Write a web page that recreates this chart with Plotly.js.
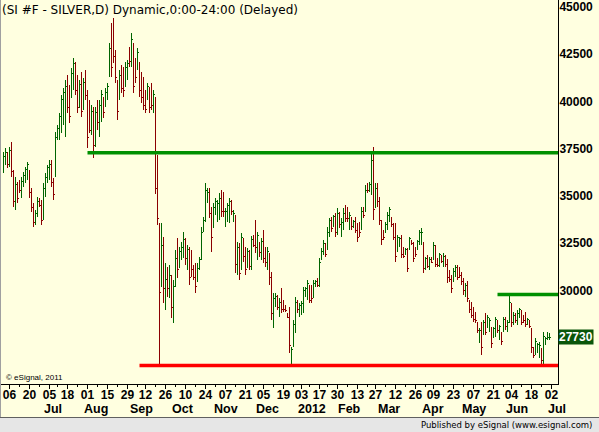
<!DOCTYPE html>
<html><head><meta charset="utf-8">
<script src="https://cdn.plot.ly/plotly-3.0.1.min.js"></script>
<style>html,body{margin:0;padding:0;background:#FFFFE0;}#chart{width:599px;height:432px;}
#chart .ohlc path{shape-rendering:crispEdges;}</style>
</head><body><div id="chart"></div>
<script>
// Daily OHLC, SI #F silver, Jun 1 2011 .. Jun 29 2012 (values as shown on the axis)
const openP = [
36700,37000,37300,36950,37700,36400,34800,35600,35900,35300,35900,36100,36300,36400,35400,34700,33800,34300,35000,34700,34000,35500,
36100,36500,36900,35900,36400,38300,38400,39000,39300,38700,41300,40200,40600,41100,42100,41300,40000,41500,39900,41600,
40500,39300,38700,39700,38000,39900,38600,39500,40300,40100,40500,41700,43500,44300,42700,41200,40500,41900,41800,41200,41600,42900,42300,
43000,42300,42000,42100,41600,41300,40600,40400,40800,41000,39800,40300,36800,33500,30600,32500,29600,30900,30100,30800,29000,
30700,32300,31600,32000,32200,32800,31700,32300,32000,31400,31000,30900,31500,32000,33400,34000,35000,35400,34300,33600,34400,
34100,34200,35300,35200,33800,34000,34000,34800,33950,34000,31300,32400,31500,32800,32300,31600,32200,31500,33000,33700,32100,
32600,32000,33200,32300,31600,32000,30900,28500,29500,29900,29000,30100,29600,29350,28980,29000,26500,27300,28200,29600,29000,
29200,29200,29950,29900,30300,30400,29900,30450,30800,30500,31900,32200,32600,32400,33200,34000,33700,34200,33300,34200,
33200,33600,34500,34400,33600,34000,33600,33900,33600,33500,33500,34500,34500,35800,35500,35600,37300,34700,35700,34900,
33800,33300,33300,33500,34000,34000,33700,33500,32300,32600,33000,32400,32100,32300,32400,32850,32700,32400,32400,32700,32800,32700,
31400,32000,31400,31900,31900,32500,31850,31550,32050,31600,32000,31700,31100,30900,30800,31100,31450,31300,31100,30700,
30000,30500,29600,29400,29200,28900,28450,27600,28300,27900,28900,28300,28200,28200,27800,27900,28600,27800,27900,28100,28700,28200,
28600,29400,28500,28950,28500,28850,29100,28850,28900,28450,28600,28150,27100,26900,27000,26800,27000,26500,27400,27650,27650
];
const highP = [
37540,37750,37540,37800,38060,36590,36210,35950,36060,36210,36480,36740,37010,36590,35630,34840,34470,35160,35100,35000,35900,36430,
36850,37110,37110,36160,38590,38960,39600,40550,40920,41340,41610,41080,41980,42510,42300,41610,41340,41770,41450,41870,
40820,40290,40020,39920,39920,40290,40290,40820,40440,40920,41190,43300,44360,44620,42930,41340,41870,42140,42030,42300,42400,43090,43830,
43300,42510,43040,42300,41770,41500,40820,41190,40970,41190,40820,40450,37400,33800,33780,33040,31660,31450,31560,31030,30770,
32350,32990,32510,32770,33300,32990,32620,32510,32350,31560,31660,31660,31980,33570,34100,35900,35630,35630,34630,34840,35100,
35000,35370,35530,35420,34570,34840,35100,35000,34470,34200,32780,32720,33250,32990,32510,32460,32350,33090,33150,33940,33300,
32780,32990,33410,32510,32510,32190,31190,30080,30080,29970,29820,30340,29710,29450,29020,29340,27220,28650,29870,29710,29550,
29650,30400,30400,30770,30500,30500,30770,30770,30870,31930,32460,32880,32720,33570,34050,34100,34200,34310,34570,34360,
34040,34570,34730,34630,34360,34100,33940,34100,33780,33840,34630,34630,35790,35900,35950,37480,37800,35900,35900,35160,
33940,33410,33840,34360,34630,34100,33780,33780,33150,33040,33150,32510,32460,32460,33040,32880,32780,32510,32880,33410,33520,32780,
31980,32090,31980,31980,32780,32620,31930,32190,32090,32190,32090,31880,31300,31030,31400,31560,31560,31450,31190,30870,
30610,30710,29710,29600,29340,29070,28540,28230,28540,28650,29020,28920,28760,28280,28280,28810,28650,28390,28020,28810,28810,28650,
29970,29550,29070,29020,29180,29290,29180,28920,29070,28760,28650,28230,27220,27700,27430,27490,27170,28020,27750,28020,27960
];
const lowP = [
36430,36850,36690,36740,36210,34630,34470,34840,35370,35100,35690,35900,36060,35100,34360,33570,33680,34100,34630,33680,33940,35160,
35900,36060,35690,35000,36210,38170,38170,38540,38960,38330,39600,39070,40390,40820,40550,39600,39860,39390,39760,40290,
37750,38540,38440,37220,37800,38700,38330,39120,39330,39920,40290,41500,41500,42240,41190,39230,40290,40660,40450,40970,41340,42030,42030,
40660,41190,41870,40450,40130,39760,39600,40290,39600,39760,39600,35300,33700,26270,30400,29550,29180,29870,29810,28760,28490,
30400,30870,31400,31830,31930,31560,31300,30500,30920,30770,30080,30660,31300,31830,33300,33830,34840,34050,32250,33520,34200,
33840,33940,34100,34100,33570,33840,33780,34200,33840,31140,31030,30770,31300,31720,31030,31400,31300,31300,32510,32190,31830,
31980,31830,31660,31450,31300,30500,28650,28230,29340,29180,28810,29020,29070,29070,28760,26910,26270,27220,27960,29020,28810,
28900,29020,29870,29710,29550,29550,29810,30400,30400,30400,31830,32090,31980,32350,33040,33300,33570,33040,33150,33520,
33040,33410,33840,33840,33410,33410,33520,33250,32780,33040,33410,34040,34360,35370,35420,35260,33940,34570,34630,33680,
32620,32880,33250,33410,33840,33570,32880,31720,32250,32510,31930,31930,32090,31190,32350,32620,31720,31980,32350,32620,32620,31140,
31300,31400,31300,31660,31830,31450,31450,31450,31660,31450,31450,30610,30660,30080,30660,30920,30770,30870,30500,29970,
29870,29600,29020,28760,28540,28490,27960,27430,26800,27860,27860,28230,28020,27170,27700,27750,27960,27590,27330,28020,28120,28020,
28490,28280,28390,28490,28390,28760,28390,28490,28280,28390,28230,26910,26640,26800,26910,26640,26270,26270,27330,27590,27600
];
const closeP = [
37300,37500,36900,37600,36500,34900,35800,35100,35500,36000,36300,36600,36850,35400,34600,33800,34300,34900,34700,33900,35600,36200,
36700,36900,35900,35300,38300,38800,39400,40300,40700,41000,39900,39400,41700,42200,40800,39900,41100,39700,41200,40500,
38300,38700,39700,37900,39600,39100,40000,40600,39600,40700,41000,43000,42000,42600,41500,39700,41600,40900,40800,42000,42200,42300,43500,
41000,41500,42800,40800,40400,40000,39800,41000,39900,40000,40600,35600,34000,30100,32600,30300,30800,30300,31000,29300,30400,
31900,31300,32300,32500,32900,31900,32400,30900,31300,30900,30400,31400,31850,33300,33900,35500,35400,34300,33000,34600,34900,
34800,35100,34400,34400,34400,34700,34900,34400,34300,31600,32500,31100,33000,32000,31300,32300,31500,32900,32600,32500,33100,
32200,32800,31900,31700,32300,30900,29000,29800,29900,29300,29600,29200,29200,29150,28800,27300,27100,28400,29600,29200,29400,
29500,30200,30300,30600,29700,29800,30600,30700,30500,31700,32300,32700,32100,33300,33900,33500,34100,33300,34300,33700,
33800,34300,34000,34000,34200,33600,33850,33400,33000,33300,34400,34200,35500,35500,35800,37100,34500,35600,34900,33900,
32900,33000,33700,34200,34500,33700,33000,32000,33000,32950,32100,32000,32400,31400,32950,32680,31900,32100,32800,33300,33300,31400,
31900,31500,31850,31700,32600,31600,31550,32100,31750,32000,31600,30900,30800,30300,31200,31450,30900,31000,30700,30200,
30500,29800,29200,28900,28700,28600,28100,28100,27200,28500,28000,28800,28600,27400,28200,28700,28100,28300,27500,28700,28300,28500,
29600,28500,28900,28600,29000,29200,28500,28600,28400,28700,28300,27200,26750,27500,27350,27300,26500,27800,27650,27700,27730
];

const holidays = ['2011-07-04','2011-09-05','2011-11-24','2011-12-26','2012-01-02','2012-01-16','2012-02-20','2012-04-06','2012-05-28'];
const tickDates = ['2011-06-06','2011-06-20','2011-07-05','2011-07-18','2011-08-01','2011-08-15','2011-08-29','2011-09-12','2011-09-26','2011-10-10','2011-10-24','2011-11-07','2011-11-21','2011-12-05','2011-12-19','2012-01-03','2012-01-17','2012-01-30','2012-02-13','2012-02-27','2012-03-12','2012-03-26','2012-04-09','2012-04-23','2012-05-07','2012-05-21','2012-06-04','2012-06-18','2012-07-02'];
const tickLabels = ['06','20','05','18','01','15','29','12','26','10','24','07','21','05','19','03','17','30','13','27','12','26','09','23','07','21','04','18','02'];
const monthDates = ['2011-07-01','2011-08-01','2011-09-01','2011-10-03','2011-11-01','2011-12-01','2012-01-03','2012-02-01','2012-03-01','2012-04-02','2012-05-01','2012-06-01','2012-07-02'];
const monthLabels = ['Jul','Aug','Sep','Oct','Nov','Dec','2012','Feb','Mar','Apr','May','Jun','Jul'];
const yTickVals = [30000,32500,35000,37500,40000,42500,45000];
const lastPrice = 27730;
const levelValues = [37500, 30000, 26250];
const levelStarts = ['2011-08-01','2012-05-23','2011-09-07'];
const levelColors = ['#009000','#009000','#FF0000'];

// trading calendar (weekdays minus exchange holidays)
const dates = [];
for (let t = Date.UTC(2011,5,1); t <= Date.UTC(2012,6,2); t += 86400000) {
  const d = new Date(t), w = d.getUTCDay(), s = d.toISOString().slice(0,10);
  if (w > 0 && w < 6 && holidays.indexOf(s) < 0) dates.push(s);
}
const idx = s => dates.indexOf(s);
const xs = openP.map((_, i) => i);
const majorVals = tickDates.map(idx);
const minorVals = [];
for (let i = 1; i < dates.length; i++) {
  const a = new Date(dates[i-1]+'T00:00:00Z'), b = new Date(dates[i]+'T00:00:00Z');
  if (b.getUTCDay() <= a.getUTCDay() || (b - a) >= 7*86400000) { if (majorVals.indexOf(i) < 0) minorVals.push(i); }
}

const XR = [-1.25, 277.25];
const YR = [25267, 45575];
const PH = 384, PW = 557;
const py = y => (PH - y) / PH;           // pixel y (from top) -> paper y
const px = x => (x - 1) / PW;            // pixel x -> paper x

const boldFont = {family:'Liberation Sans, Arial, sans-serif', size:12, color:'#000', weight:'bold'};

const trace = {
  type:'ohlc', x: xs, open: openP, high: highP, low: lowP, close: closeP,
  increasing:{line:{color:'#006400', width:1}},
  decreasing:{line:{color:'#8B0000', width:1}},
  tickwidth:0.5, hoverinfo:'skip', showlegend:false
};

const shapes = [
  {type:'rect', xref:'paper', yref:'paper', x0:px(-2), x1:px(602), y0:py(417), y1:py(435), fillcolor:'#E6E6E6', line:{width:0}, layer:'above'},
  {type:'line', xref:'paper', yref:'paper', x0:px(-2), x1:px(602), y0:py(417.5), y1:py(417.5), line:{color:'#606060', width:1}, layer:'above'},
  {type:'line', xref:'paper', yref:'paper', x0:px(0.5), x1:px(0.5), y0:py(0), y1:py(417), line:{color:'#A0A0A0', width:1}, layer:'above'}
];
levelValues.forEach((v, k) => shapes.push({
  type:'line', xref:'x', yref:'y', x0: idx(levelStarts[k]), x1: XR[1], y0: v, y1: v,
  line:{color: levelColors[k], width: 3.5}, layer:'above'
}));

const annotations = monthLabels.map((m, k) => ({
  xref:'x', yref:'paper', x: idx(monthDates[k]), y: py(408.5), xanchor:'left', yanchor:'middle', xshift:-6,
  text: m, showarrow:false, font: Object.assign({}, boldFont, {size:12.5})
}));
annotations.push({xref:'paper', yref:'y', x:1, y:lastPrice, xanchor:'left', yanchor:'middle', xshift:0,
  text:String(lastPrice), showarrow:false, bgcolor:'#0A560A', borderpad:0,
  font:Object.assign({}, boldFont, {color:'#FFFFFF'})});
annotations.push({xref:'paper', yref:'paper', x:px(4), y:py(377), xanchor:'left', yanchor:'middle',
  text:'© eSignal, 2011', showarrow:false, font:{family:'Liberation Sans, Arial', size:8, color:'#000'}});
annotations.push({xref:'paper', yref:'paper', x:px(594), y:py(424.5), xanchor:'right', yanchor:'middle',
  text:'Published by eSignal (www.esignal.com)', showarrow:false, font:{family:'DejaVu Sans, sans-serif', size:8.5, color:'#000'}});

const layout = {
  width:599, height:432, margin:{l:1, r:41, t:0, b:48, pad:0},
  paper_bgcolor:'#FFFFE0', plot_bgcolor:'#FFFFE0', showlegend:false,
  title:{text:'(SI #F - SILVER,D) Dynamic,0:00-24:00 (Delayed)', xref:'container', yref:'container',
    x:2/599, xanchor:'left', y:1-10/432, yanchor:'middle', font:{family:'DejaVu Sans, sans-serif', size:12, color:'#000'}},
  xaxis:{range:XR, tickmode:'array', tickvals:majorVals, ticktext:tickLabels, ticks:'outside', ticklen:4,
    tickcolor:'#000', tickwidth:1, showline:true, linecolor:'#000', linewidth:1, showgrid:false, zeroline:false,
    tickfont:boldFont, ticklabelstandoff:-4, rangeslider:{visible:false}, fixedrange:true,
    minor:{tickmode:'array', tickvals:minorVals, ticks:'outside', ticklen:2, tickcolor:'#000', tickwidth:1, showgrid:false}},
  yaxis:{side:'right', range:YR, tickmode:'array', tickvals:yTickVals, ticktext:yTickVals.map(String),
    showline:true, linecolor:'#000', linewidth:1, showgrid:false, zeroline:false, ticks:'',
    tickfont:boldFont, ticklabelshift:-4, ticklabelstandoff:-2, ticklabeloverflow:'allow', fixedrange:true},
  shapes: shapes, annotations: annotations
};
Plotly.newPlot('chart', [trace], layout, {staticPlot:true, displayModeBar:false});
</script></body></html>
